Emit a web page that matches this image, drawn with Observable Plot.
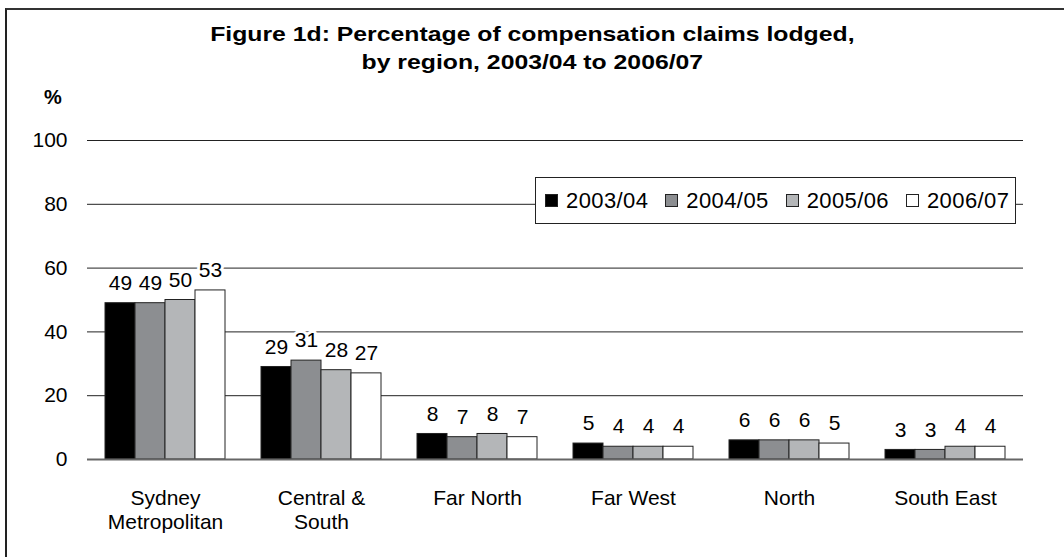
<!DOCTYPE html>
<html>
<head>
<meta charset="utf-8">
<script src="https://cdn.jsdelivr.net/npm/d3@7"></script>
<script src="https://cdn.jsdelivr.net/npm/@observablehq/plot@0.6"></script>
<style>
  html, body { margin: 0; padding: 0; background: #fff; }
  #page { position: relative; width: 1064px; height: 557px; overflow: hidden; font-family: "Liberation Sans", Arial, sans-serif; color: #000; }
  #frame { position: absolute; left: 5px; top: 8px; right: -10px; bottom: -10px; border-left: 2px solid #222; border-top: 2px solid #333; pointer-events: none; }
  #title { position: absolute; left: 0; width: 1064px; top: 20px; text-align: center; font-weight: bold; font-size: 21px; line-height: 28px; transform: scaleX(1.18); transform-origin: 530px 0; }
  #unit { position: absolute; left: 44px; top: 86px; font-weight: bold; font-size: 20px; }
  #chart { position: absolute; left: 0; top: 110px; }
  #legend { position: absolute; left: 535px; top: 177px; width: 479px; height: 45px; border: 1px solid #222; background: #fff; box-sizing: content-box; display: flex; align-items: center; font-size: 22px; letter-spacing: 0.4px; }
  .item { display: flex; align-items: center; margin-left: 9px; margin-right: 8px; }
  .sw { width: 11px; height: 11px; border: 1px solid #222; margin-right: 8px; }
</style>
</head>
<body>
<div id="page">
  <div id="title">Figure 1d: Percentage of compensation claims lodged,<br>by region, 2003/04 to 2006/07</div>
  <div id="unit">%</div>
  <div id="chart"></div>
  <div id="legend"></div>
  <div id="frame"></div>
</div>
<script>
const regions = ["Sydney Metropolitan", "Central & South", "Far North", "Far West", "North", "South East"];
const regionLabels = ["Sydney\nMetropolitan", "Central &\nSouth", "Far North", "Far West", "North", "South East"];
const years = ["2003/04", "2004/05", "2005/06", "2006/07"];
const v2003 = [49, 29, 8, 5, 6, 3];
const v2004 = [49, 31, 7, 4, 6, 3];
const v2005 = [50, 28, 8, 4, 6, 4];
const v2006 = [53, 27, 7, 4, 5, 4];
const yTicks = [0, 20, 40, 60, 80, 100];
const colors = ["#000000", "#8c8e91", "#b4b6b8", "#ffffff"];

const series = [v2003, v2004, v2005, v2006];
const data = [];
regions.forEach((r, i) => years.forEach((y, j) => data.push({region: r, year: y, value: series[j][i]})));
const labelOf = new Map(regions.map((r, i) => [r, regionLabels[i]]));

const chart = Plot.plot({
  width: 1064,
  height: 440,
  marginLeft: 86,
  marginRight: 40,
  marginTop: 30,
  marginBottom: 91,
  style: {fontFamily: "'Liberation Sans', Arial, sans-serif", fontSize: "20px", color: "#000", background: "transparent"},
  fx: {domain: regions, paddingInner: 0, paddingOuter: 0, label: null, axis: null},
  x: {domain: years, paddingInner: 0, paddingOuter: 0.52, axis: null},
  y: {domain: [0, 100], label: null, axis: null},
  color: {domain: years, range: colors},
  marks: [
    Plot.ruleY(yTicks.filter(d => d > 0), {stroke: "#222", strokeWidth: 1}),
    Plot.barY(data, {fx: "region", x: "year", y: "value", fill: "year", stroke: "#222", strokeWidth: 1}),
    Plot.ruleY([0], {stroke: "#666", strokeWidth: 2}),
    Plot.text(data, {fx: "region", x: "year", y: "value", text: d => String(d.value), dy: -20, fill: "#000", stroke: "#fff", strokeWidth: 6, fontSize: 21}),
    Plot.axisY({ticks: yTicks, tickSize: 0, tickPadding: 20, fontSize: 21, label: null}),
    Plot.axisFx({anchor: "bottom", tickSize: 0, tickPadding: 28, fontSize: 21, lineHeight: 1.15, label: null, tickFormat: d => labelOf.get(d)})
  ]
});
document.getElementById("chart").appendChild(chart);

const legend = document.getElementById("legend");
years.forEach((y, j) => {
  const item = document.createElement("div");
  item.className = "item";
  const sw = document.createElement("div");
  sw.className = "sw";
  sw.style.background = colors[j];
  const t = document.createElement("span");
  t.textContent = y;
  item.appendChild(sw);
  item.appendChild(t);
  legend.appendChild(item);
});
</script>
</body>
</html>
